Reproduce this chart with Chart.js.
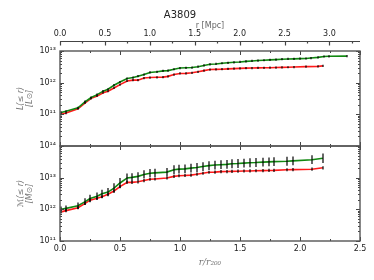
<!DOCTYPE html>
<html>
<head>
<meta charset="utf-8">
<script src="https://cdn.jsdelivr.net/npm/chart.js@4"></script>
<style>
  body { margin: 0; background: #fff; width: 374px; height: 280px; position: relative; overflow: hidden; }
  canvas { position: absolute; left: 0; }
  #chartLum { top: 0; }
  #chartMass { top: 140px; }
</style>
</head>
<body>
<canvas id="chartLum" width="374" height="150"></canvas>
<canvas id="chartMass" width="374" height="140"></canvas>
<script>
// A3809 - luminosidade e massa acumuladas

// painel de cima: L(<= r)
const rLumGreen = [0.01,0.05,0.15,0.21,0.26,0.31,0.36,0.40,0.45,0.50,0.56,0.61,0.65,0.70,0.75,0.81,0.86,0.90,0.95,1.00,1.05,1.10,1.15,1.20,1.25,1.30,1.35,1.40,1.45,1.50,1.55,1.60,1.65,1.70,1.75,1.80,1.85,1.90,1.95,2.00,2.05,2.09,2.15,2.20,2.24,2.39];
const lumGreen  = [1.15e11,1.25e11,1.6e11,2.5e11,3.4e11,4.2e11,5.4e11,6.2e11,8.3e11,1.05e12,1.35e12,1.45e12,1.6e12,1.8e12,2.1e12,2.2e12,2.35e12,2.4e12,2.65e12,2.9e12,2.95e12,3.0e12,3.2e12,3.5e12,3.8e12,3.9e12,4.1e12,4.25e12,4.4e12,4.5e12,4.7e12,4.85e12,5.0e12,5.1e12,5.25e12,5.35e12,5.5e12,5.6e12,5.65e12,5.75e12,5.8e12,6.0e12,6.3e12,6.7e12,6.8e12,6.9e12];
const rLumRed   = [0.01,0.05,0.15,0.21,0.26,0.31,0.36,0.40,0.45,0.50,0.56,0.61,0.65,0.70,0.75,0.81,0.86,0.90,0.95,1.00,1.05,1.10,1.15,1.20,1.25,1.30,1.35,1.40,1.45,1.50,1.55,1.60,1.65,1.70,1.75,1.80,1.85,1.90,1.95,2.05,2.15,2.19];
const lumRed    = [1.0e11,1.1e11,1.5e11,2.3e11,3.2e11,3.8e11,4.8e11,5.4e11,6.8e11,8.7e11,1.13e12,1.2e12,1.2e12,1.4e12,1.45e12,1.48e12,1.5e12,1.58e12,1.8e12,1.95e12,1.97e12,2.05e12,2.2e12,2.4e12,2.6e12,2.62e12,2.66e12,2.72e12,2.78e12,2.83e12,2.88e12,2.9e12,2.93e12,2.95e12,2.97e12,3.0e12,3.03e12,3.07e12,3.12e12,3.2e12,3.28e12,3.4e12];

// painel de baixo: M(<= r)
const rMass = [0.01,0.05,0.15,0.21,0.25,0.31,0.35,0.40,0.45,0.50,0.56,0.60,0.65,0.70,0.75,0.79,0.89,0.95,0.99,1.04,1.09,1.14,1.19,1.24,1.29,1.34,1.39,1.43,1.48,1.53,1.58,1.63,1.69,1.74,1.78,1.89,1.94,2.10,2.19];
const massGreen = [1.0e12,1.07e12,1.3e12,1.75e12,2.2e12,2.6e12,3.1e12,3.5e12,4.7e12,6.8e12,9.8e12,1.02e13,1.1e13,1.26e13,1.38e13,1.42e13,1.5e13,1.78e13,1.86e13,1.9e13,2.0e13,2.1e13,2.24e13,2.4e13,2.5e13,2.57e13,2.63e13,2.75e13,2.8e13,2.88e13,2.95e13,3.0e13,3.1e13,3.15e13,3.2e13,3.3e13,3.4e13,3.7e13,4.1e13];
const massRed   = [8.3e11,9.1e11,1.12e12,1.55e12,1.95e12,2.25e12,2.5e12,3.0e12,3.8e12,5.2e12,7.1e12,7.1e12,7.4e12,8.1e12,8.9e12,9.1e12,9.8e12,1.1e13,1.15e13,1.17e13,1.2e13,1.29e13,1.38e13,1.48e13,1.5e13,1.55e13,1.56e13,1.58e13,1.6e13,1.62e13,1.63e13,1.65e13,1.67e13,1.69e13,1.7e13,1.78e13,1.8e13,1.85e13,2.05e13];
// barras de erro (dex)
const massGreenErr = [0.09,0.09,0.10,0.11,0.12,0.12,0.13,0.13,0.15,0.16,0.14,0.13,0.13,0.13,0.13,0.13,0.13,0.14,0.14,0.14,0.14,0.14,0.14,0.14,0.14,0.14,0.14,0.14,0.14,0.14,0.14,0.14,0.14,0.14,0.14,0.14,0.14,0.14,0.15];

// eixos
const lumDecades  = [11, 12, 13];
const massDecades = [11, 12, 13, 14];
const mpcMax = 3.34;

const SUP = { '0': '⁰', '1': '¹', '2': '²', '3': '³', '4': '⁴' };
const pts = (xs, ys) => xs.map((x, i) => ({ x, y: ys[i] }));
const isMultiple = (v, s) => Math.abs(v / s - Math.round(v / s)) < 1e-6;

function decadeTicks(lo, hi) {
  const t = [];
  for (let e = lo; e < hi; e++) for (let m = 1; m < 10; m++) t.push({ value: m * Math.pow(10, e) });
  t.push({ value: Math.pow(10, hi) });
  return t;
}

function logLabel(decades) {
  return v => {
    const l = Math.log10(v), e = Math.round(l);
    if (Math.abs(l - e) < 1e-9 && decades.includes(e)) return '10' + String(e).split('').map(c => SUP[c]).join('');
    return '';
  };
}

const tickFont = { family: 'DejaVu Sans', size: 8 };

// moldura, ticks para dentro, barras de erro e eixo em Mpc
const decor = {
  id: 'decor',
  afterDatasetsDraw(chart) {
    const { ctx, chartArea: a, scales } = chart;
    const x = scales.x, y = scales.y;
    ctx.save();

    ctx.strokeStyle = '#000';
    ctx.lineWidth = 1.2;
    chart.data.datasets.forEach(ds => {
      ds.data.forEach((p, j) => {
        const e = Array.isArray(ds.err) ? ds.err[j] : ds.err;
        if (!e) return;
        const px = Math.round(x.getPixelForValue(p.x));
        ctx.beginPath();
        ctx.moveTo(px, y.getPixelForValue(p.y * Math.pow(10, e)));
        ctx.lineTo(px, y.getPixelForValue(p.y / Math.pow(10, e)));
        ctx.stroke();
      });
    });

    ctx.strokeStyle = '#444';
    ctx.lineWidth = 1;
    ctx.beginPath();
    x.ticks.forEach(t => {
      const px = Math.round(x.getPixelForValue(t.value)) + 0.5;
      const len = isMultiple(t.value, 0.5) ? 4 : 2;
      ctx.moveTo(px, a.top); ctx.lineTo(px, a.top + len);
      ctx.moveTo(px, a.bottom); ctx.lineTo(px, a.bottom - len);
    });
    y.ticks.forEach(t => {
      const py = Math.round(y.getPixelForValue(t.value)) + 0.5;
      const l = Math.log10(t.value);
      const len = Math.abs(l - Math.round(l)) < 1e-9 ? 4 : 2;
      ctx.moveTo(a.left, py); ctx.lineTo(a.left + len, py);
      ctx.moveTo(a.right, py); ctx.lineTo(a.right - len, py);
    });
    ctx.stroke();

    if (scales.x2) {
      const x2 = scales.x2, ay = a.top - 9.5;
      ctx.beginPath();
      ctx.moveTo(a.left, ay); ctx.lineTo(a.right, ay);
      x2.ticks.forEach(t => {
        const px = Math.round(x2.getPixelForValue(t.value)) + 0.5;
        ctx.moveTo(px, ay); ctx.lineTo(px, ay + (isMultiple(t.value, 0.5) ? 4 : 2));
      });
      ctx.lineWidth = 1.2;
      ctx.stroke();
    }

    ctx.strokeStyle = '#555';
    ctx.lineWidth = 1.4;
    ctx.strokeRect(a.left, a.top, a.right - a.left, a.bottom - a.top);
    ctx.restore();
  }
};

function xAxis(display) {
  return {
    type: 'linear', min: 0, max: 2.5, display,
    grid: { display: false, drawTicks: false }, border: { display: false },
    ticks: {
      stepSize: 0.25, includeBounds: false, autoSkip: false, maxRotation: 0,
      padding: 3, color: '#222', font: tickFont,
      callback: v => isMultiple(v, 0.5) ? v.toFixed(1) : ''
    }
  };
}

function yAxis(lo, hi, decades, title) {
  return {
    type: 'logarithmic', min: Math.pow(10, lo), max: Math.pow(10, hi),
    grid: { display: false, drawTicks: false }, border: { display: false },
    afterBuildTicks: s => { s.ticks = decadeTicks(lo, hi); },
    afterFit: s => { s.width = 60; s.paddingTop = 0; s.paddingBottom = 0; },
    ticks: { autoSkip: false, padding: 4, color: '#222', font: tickFont, callback: logLabel(decades) },
    title: {
      display: true, text: title, color: '#777',
      font: { family: 'DejaVu Sans', size: 8, style: 'italic', lineHeight: 1.1 },
      padding: { top: 17, bottom: 0 }
    }
  };
}

const lineStyle = { borderWidth: 1.6, pointRadius: 0, tension: 0, fill: false };

new Chart(document.getElementById('chartLum'), {
  type: 'line',
  data: {
    datasets: [
      { ...lineStyle, data: pts(rLumGreen, lumGreen), borderColor: '#118811', err: 0.035 },
      { ...lineStyle, data: pts(rLumRed, lumRed), borderColor: '#ff1a1a', err: 0.035 }
    ]
  },
  options: {
    responsive: false, animation: false, devicePixelRatio: 1,
    layout: { padding: { left: 0, right: 14, top: 0, bottom: 4 } },
    plugins: {
      legend: { display: false }, tooltip: { enabled: false },
      title: { display: true, text: 'A3809', color: '#222', font: { family: 'DejaVu Sans', size: 10, weight: 'normal' }, padding: { top: 9, bottom: 0 } }
    },
    scales: {
      x: xAxis(false),
      x2: {
        type: 'linear', position: 'top', min: 0, max: mpcMax,
        grid: { display: false, drawTicks: false }, border: { display: false },
        afterFit: s => { s.height = 30; },
        ticks: {
          stepSize: 0.25, includeBounds: false, autoSkip: false, maxRotation: 0,
          padding: 12, color: '#222', font: tickFont,
          callback: v => isMultiple(v, 0.5) ? v.toFixed(1) : ''
        },
        title: { display: true, text: 'r [Mpc]', color: '#666', font: { family: 'DejaVu Sans', size: 8 }, padding: { top: 0, bottom: 0 } }
      },
      y: yAxis(10, 13, lumDecades, ['L(≤ r)', '[L⊙]'])
    }
  },
  plugins: [decor]
});

const xBottom = xAxis(true);
xBottom.afterFit = s => { s.height = 39; };
xBottom.title = {
  display: true, text: 'r/r₂₀₀', color: '#777',
  font: { family: 'DejaVu Serif', size: 9, style: 'italic' },
  padding: { top: 0, bottom: 12 }
};

new Chart(document.getElementById('chartMass'), {
  type: 'line',
  data: {
    datasets: [
      { ...lineStyle, data: pts(rMass, massGreen), borderColor: '#118811', err: massGreenErr },
      { ...lineStyle, data: pts(rMass, massRed), borderColor: '#ff1a1a', err: 0.05 }
    ]
  },
  options: {
    responsive: false, animation: false, devicePixelRatio: 1,
    layout: { padding: { left: 0, right: 14, top: 6, bottom: 0 } },
    plugins: { legend: { display: false }, tooltip: { enabled: false } },
    scales: {
      x: xBottom,
      y: yAxis(11, 14, massDecades, ['ℳ(≤ r)', '[M⊙]'])
    }
  },
  plugins: [decor]
});
</script>
</body>
</html>
